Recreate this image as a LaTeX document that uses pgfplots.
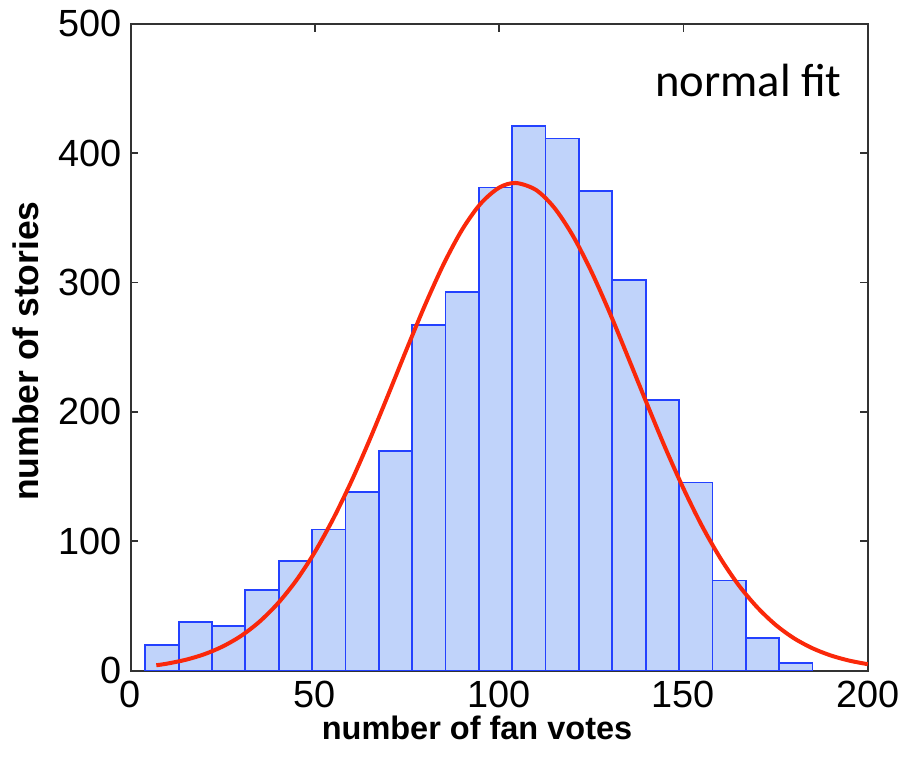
\documentclass[border=0pt]{standalone}
\usepackage{fontspec}
\setmainfont{Liberation Sans}
\newfontfamily\calibri{Carlito}
\usepackage{pgfplots}
\pgfplotsset{compat=1.18}
\definecolor{barfill}{RGB}{192,211,250}
\definecolor{baredge}{RGB}{35,65,255}
\definecolor{fitred}{RGB}{250,40,10}
\definecolor{frame}{RGB}{50,50,50}
\begin{document}
\begin{tikzpicture}
\begin{axis}[
  at={(0,0)}, anchor=south west,
  scale only axis, width=370pt, height=324.5pt,
  xmin=0, xmax=200, ymin=0, ymax=500,
  xtick={0,50,...,200}, ytick={0,100,...,500},
  tick align=inside, major tick length=4pt,
  axis line style={frame, line width=1pt},
  every tick/.style={frame, line width=0.8pt},
  /pgf/number format/assume math mode=true,
  ticklabel style={font=\fontsize{19}{22}\selectfont},
  xticklabel style={yshift=-2pt},
  yticklabel style={xshift=-1pt},
  xlabel={\bfseries number of fan votes},
  ylabel={\bfseries number of stories},
  xlabel style={font=\fontsize{16.3}{19}\selectfont\bfseries, at={(axis description cs:0.47,0)}, anchor=base, yshift=-34.5pt},
  ylabel style={font=\fontsize{17.8}{20}\selectfont\bfseries, at={(axis description cs:0,0.494)}, anchor=base, rotate=0, yshift=46pt},
  clip=false,
]
\addplot[ybar interval, fill=barfill, draw=baredge, line width=0.9pt] coordinates {
(4,19.6) (13.05,37.4) (22.1,34.3) (31.15,62.2) (40.2,84.7) (49.25,109) (58.3,138) (67.35,169.5) (76.4,267.3) (85.45,293) (94.5,373.5) (103.55,421) (112.6,411.4) (121.65,371) (130.7,301.8) (139.75,209.1) (148.8,145.4) (157.85,69.6) (166.9,25.3) (175.95,5.6) (185,5.6)
};
\addplot[fitred, line width=2pt, smooth] coordinates {
(7,4.07) (10,5.36) (15,8.31) (20,12.57) (25,18.58) (30,26.8) (35,37.8) (40,52.0) (45,69.8) (50,91.6) (55,117.4) (60,146.8) (65,179.3) (70,213.9) (75,249.1) (80,283.3) (85,314.6) (90,341.1) (95,361.1) (100,373.4) (104.5,377) (110,371.6) (115,357.7) (120,336.2) (125,308.6) (130,276.6) (135,242.0) (140,206.9) (145,172.6) (150,140.7) (155,111.9) (160,86.9) (165,65.9) (170,48.9) (175,35.3) (180,24.9) (185,17.2) (190,11.6) (195,7.63) (200,4.89)
};
\node[anchor=base east, inner sep=0pt, font=\calibri\fontsize{23.4}{28}\selectfont] at (axis cs:193,443.5) {normal fit};
\end{axis}
\path[use as bounding box] (-65.5pt,-43pt) rectangle (387pt,336.5pt);
\end{tikzpicture}
\end{document}
